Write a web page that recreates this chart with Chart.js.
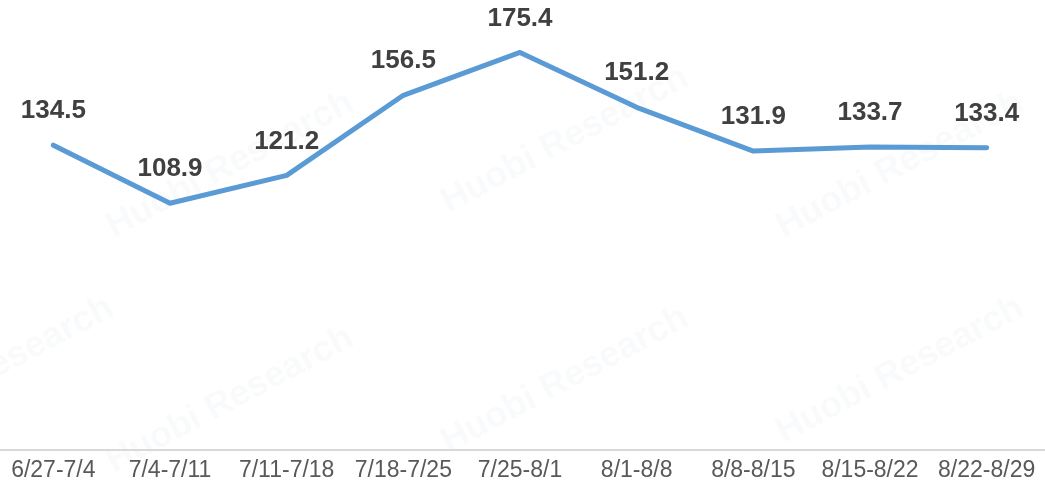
<!DOCTYPE html>
<html>
<head>
<meta charset="utf-8">
<script src="https://cdn.jsdelivr.net/npm/chart.js@4/dist/chart.umd.min.js"></script>
<style>
  html, body { margin: 0; padding: 0; background: #fff; overflow: hidden; }
  #wrap { width: 1050px; height: 492px; position: relative; margin-left: -5px; }
</style>
</head>
<body>
<div id="wrap"><canvas id="weekChart"></canvas></div>
<script>
const weeks = ['6/27-7/4', '7/4-7/11', '7/11-7/18', '7/18-7/25', '7/25-8/1', '8/1-8/8', '8/8-8/15', '8/15-8/22', '8/22-8/29'];
const values = [134.5, 108.9, 121.2, 156.5, 175.4, 151.2, 131.9, 133.7, 133.4];

// faint watermark behind the chart
const watermark = {
  id: 'watermark',
  beforeDraw(chart) {
    const { ctx } = chart;
    const spots = [[235, 165], [570, 140], [905, 165], [235, 400], [570, 380], [905, 370], [-5, 370]];
    ctx.save();
    ctx.fillStyle = 'rgba(60,90,130,0.03)';
    ctx.font = 'bold 36px "Liberation Sans", Arial, sans-serif';
    ctx.textAlign = 'center';
    ctx.textBaseline = 'middle';
    spots.forEach(([x, y]) => {
      ctx.save();
      ctx.translate(x, y);
      ctx.rotate(-28 * Math.PI / 180);
      ctx.fillText('Huobi Research', 0, 0);
      ctx.restore();
    });
    ctx.restore();
  }
};

// value labels above each point
const pointLabels = {
  id: 'pointLabels',
  afterDatasetsDraw(chart) {
    const { ctx } = chart;
    const meta = chart.getDatasetMeta(0);
    ctx.save();
    ctx.fillStyle = '#404040';
    ctx.font = 'bold 26px "Liberation Sans", Arial, sans-serif';
    ctx.textAlign = 'center';
    ctx.textBaseline = 'middle';
    meta.data.forEach((pt, i) => {
      ctx.fillText(values[i].toFixed(1), pt.x, pt.y - 34);
    });
    ctx.restore();
  }
};

new Chart(document.getElementById('weekChart'), {
  type: 'line',
  data: {
    labels: weeks,
    datasets: [{
      data: values,
      borderColor: '#5b9bd5',
      borderWidth: 5,
      pointRadius: 0,
      tension: 0,
      borderCapStyle: 'round',
      borderJoinStyle: 'round'
    }]
  },
  options: {
    responsive: true, maintainAspectRatio: false,
    animation: false,
    layout: { padding: { left: 0, right: 0, top: 0, bottom: 2 } },
    plugins: { legend: { display: false }, tooltip: { enabled: false } },
    scales: {
      x: {
        offset: true,
        grid: { display: false, drawTicks: false },
        border: { color: '#d9d9d9', width: 2 },
        ticks: { color: '#595959', font: { family: '"Liberation Sans", Arial, sans-serif', size: 23 }, padding: 6, maxRotation: 0, autoSkip: false }
      },
      y: { display: false, min: 0, max: 198.5 }
    }
  },
  plugins: [watermark, pointLabels]
});
</script>
</body>
</html>
